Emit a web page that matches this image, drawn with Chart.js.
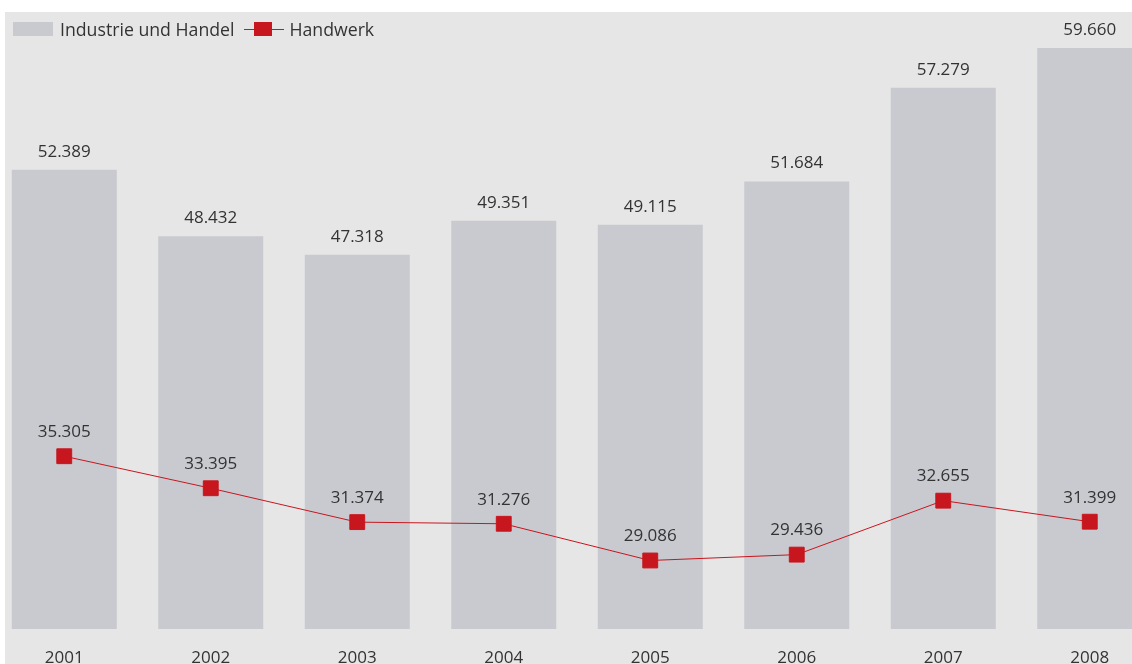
<!DOCTYPE html>
<html lang="de">
<head>
<meta charset="UTF-8">
<title>Industrie und Handel / Handwerk</title>
<script src="https://cdn.jsdelivr.net/npm/chart.js@4.4.1/dist/chart.umd.min.js"></script>
<style>
  html, body { margin: 0; padding: 0; background: #fff; overflow: hidden; }
  body { width: 1132px; height: 664px; position: relative; font-family: "Open Sans", sans-serif; }
  #bg { position: absolute; left: 5px; top: 12px; right: 0; bottom: 0; background: #e6e6e6; }
  #chart { position: absolute; left: -9px; top: 12px; }
  #legend { position: absolute; left: 13px; top: 17px; font-size: 17.7px; color: #333; display: flex; align-items: center; }
  #legend .sw { display: inline-block; width: 40px; height: 14px; background: #c9cacf; margin-right: 7px; }
  #legend .ln { display: inline-block; width: 40px; height: 14px; position: relative; margin: 0 5px 0 10px; }
  #legend .ln:before { content: ""; position: absolute; left: 0; right: 0; top: 7px; height: 1px; background: #c8161e; }
  #legend .ln:after { content: ""; position: absolute; left: 10px; top: 0; width: 18px; height: 14px; background: #c8161e; }
</style>
</head>
<body>
<div id="bg"></div>
<canvas id="chart" width="1172" height="652"></canvas>
<div id="legend"><span class="sw"></span><span>Industrie und Handel</span><span class="ln"></span><span>Handwerk</span></div>
<script>
const years = ["2001", "2002", "2003", "2004", "2005", "2006", "2007", "2008"];
const industrie = [52.389, 48.432, 47.318, 49.351, 49.115, 51.684, 57.279, 59.660];
const handwerk = [35.305, 33.395, 31.374, 31.276, 29.086, 29.436, 32.655, 31.399];

const fmt = v => v.toFixed(3);

const valueLabels = {
  id: "valueLabels",
  afterDatasetsDraw(chart) {
    const ctx = chart.ctx;
    ctx.save();
    ctx.font = "17px 'Open Sans', sans-serif";
    ctx.fillStyle = "#333";
    ctx.textAlign = "center";
    ctx.textBaseline = "middle";
    chart.data.datasets.forEach((ds, i) => {
      const meta = chart.getDatasetMeta(i);
      const off = ds.type === "line" ? 24 : 18;
      meta.data.forEach((el, j) => {
        ctx.fillText(fmt(ds.data[j]), el.x, el.y - off);
      });
    });
    ctx.restore();
  }
};

new Chart(document.getElementById("chart"), {
  data: {
    labels: years,
    datasets: [
      {
        type: "line",
        label: "Handwerk",
        data: handwerk,
        borderColor: "#c8161e",
        backgroundColor: "#c8161e",
        borderWidth: 1,
        pointStyle: "rect",
        pointRadius: 10.5,
        pointHoverRadius: 10.5,
        tension: 0,
        order: 0
      },
      {
        type: "bar",
        label: "Industrie und Handel",
        data: industrie,
        backgroundColor: "#c9cacf",
        barPercentage: 0.717,
        categoryPercentage: 1,
        order: 1
      }
    ]
  },
  options: {
    responsive: false,
    animation: false,
    layout: { padding: 0, autoPadding: false },
    plugins: { legend: { display: false }, tooltip: { enabled: false } },
    scales: {
      x: {
        grid: { display: false, drawTicks: false },
        border: { display: false },
        ticks: { color: "#333", font: { family: "'Open Sans', sans-serif", size: 17 }, padding: 19 },
        afterFit: s => { s.height = 35; }
      },
      y: {
        display: false,
        min: 25,
        max: 61.8
      }
    }
  },
  plugins: [valueLabels]
});
</script>
</body>
</html>
